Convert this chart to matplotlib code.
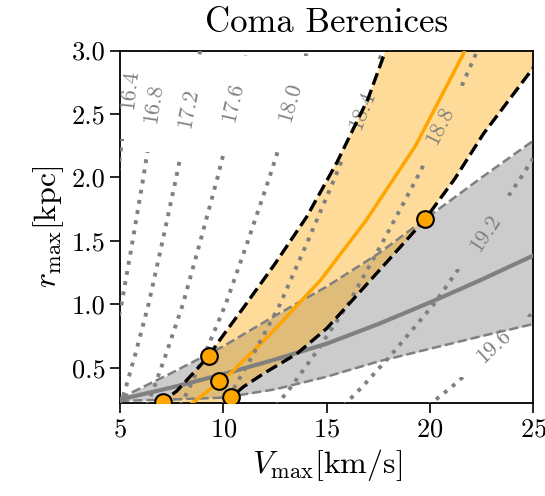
import matplotlib
matplotlib.use('Agg')
import matplotlib.pyplot as plt
from matplotlib.transforms import Bbox, TransformedBbox

plt.rcParams['font.family'] = ['cmr10', 'DejaVu Serif']
plt.rcParams['mathtext.fontset'] = 'cm'
plt.rcParams['axes.formatter.use_mathtext'] = True

# J-factor contours (log10 J), V_max [km/s] at fixed r_max [kpc]
J_labels = ['16.4', '16.8', '17.2', '17.6', '18.0', '18.4', '18.8', '19.2', '19.6']
r_grid = [0.2, 0.35, 0.6, 1.0, 1.5, 2.0, 2.5, 3.0, 3.2]
V_164 = [3.15, 3.33, 3.61, 4.03, 4.45, 4.87, 5.26, 5.60, 5.73]
V_168 = [3.97, 4.20, 4.55, 5.07, 5.61, 6.13, 6.62, 7.05, 7.22]
V_172 = [5.00, 5.29, 5.73, 6.38, 7.06, 7.72, 8.33, 8.88, 9.09]
V_176 = [6.29, 6.66, 7.21, 8.04, 8.89, 9.72, 10.49, 11.17, 11.44]
V_180 = [7.92, 8.38, 9.08, 10.11, 11.19, 12.23, 13.21, 14.06, 14.40]
V_184 = [9.97, 10.55, 11.43, 12.74, 14.09, 15.40, 16.63, 17.71, 18.13]
V_188 = [12.55, 13.28, 14.39, 16.03, 17.74, 19.38, 20.93, 22.29, 22.83]
V_192 = [15.80, 16.72, 18.11, 20.18, 22.33, 24.40, 26.35, 28.07, 28.74]
V_196 = [19.90, 21.05, 22.80, 25.41, 28.12, 30.72, 33.20, 35.30, 36.20]
contour_V = [V_164, V_168, V_172, V_176, V_180, V_184, V_188, V_192, V_196]

# gray band: r_max-V_max relation (median and scatter)
gray_V = [5, 7.5, 10, 12.5, 15, 17.5, 20, 22.5, 25]
gray_mid = [0.25, 0.345, 0.45, 0.565, 0.69, 0.845, 1.015, 1.195, 1.385]
gray_hi = [0.26, 0.46, 0.67, 0.91, 1.14, 1.40, 1.70, 2.00, 2.29]
gray_lo = [0.24, 0.25, 0.265, 0.33, 0.43, 0.55, 0.65, 0.75, 0.845]

# orange band: allowed region for Coma Berenices
orange_up_V = [6.9, 7.1, 7.74, 8.5, 9.31, 9.84, 11.0, 12.5, 14.03, 15.5, 17.0, 17.85, 18.1]
orange_up_r = [0.20, 0.238, 0.316, 0.45, 0.596, 0.722, 0.98, 1.32, 1.689, 2.12, 2.62, 3.0, 3.1]
orange_lo_V = [10.2, 10.36, 10.97, 12.0, 13.55, 15.0, 16.45, 18.0, 19.76, 21.2, 22.58, 25.0, 26.0]
orange_lo_r = [0.20, 0.267, 0.35, 0.46, 0.61, 0.81, 1.07, 1.35, 1.67, 1.99, 2.343, 2.865, 3.1]
orange_mid_V = [8.3, 8.55, 10.3, 12.3, 14.7, 16.9, 19.3, 21.6, 21.8]
orange_mid_r = [0.2, 0.228, 0.45, 0.77, 1.19, 1.66, 2.25, 2.97, 3.05]

# highlighted points
pts_V = [7.1, 9.31, 9.80, 10.36, 19.76]
pts_r = [0.232, 0.593, 0.398, 0.267, 1.67]

ylo, yhi = 0.225, 3.0

fig = plt.figure(figsize=(5.45, 4.96), dpi=100)
ax = fig.add_axes([120 / 545, 1 - 402.7 / 496, 413.4 / 545, 352.2 / 496])

ax.fill_between(gray_V, gray_lo, gray_hi, color='gray', alpha=0.4, lw=0, zorder=1)
ax.fill(orange_up_V + orange_lo_V[::-1], orange_up_r + orange_lo_r[::-1],
        color='orange', alpha=0.4, lw=0, zorder=1.5)

ax.plot(gray_V, gray_mid, color='gray', lw=3, zorder=3)
ax.plot(gray_V, gray_hi, color='gray', lw=1.8, ls='--', zorder=3)
ax.plot(gray_V, gray_lo, color='gray', lw=1.8, ls='--', zorder=3)

ax.plot(orange_mid_V, orange_mid_r, color='orange', lw=2.5, zorder=3)
ax.plot(orange_up_V, orange_up_r, color='black', lw=2.4, ls='--', zorder=5)
ax.plot(orange_lo_V, orange_lo_r, color='black', lw=2.4, ls='--', zorder=5)

# contour lines with a gap where the label sits
label_pos = [(5.45, 2.69, 84), (6.6, 2.58, 81), (8.29, 2.54, 79), (10.47, 2.59, 77),
             (13.22, 2.59, 74), (16.69, 2.53, 68), (20.48, 2.41, 63), (22.66, 1.56, 56),
             (23.06, 0.67, 43)]
gaps = [(2.3, 3.1), (2.2, 2.95), (2.15, 2.93), (2.18, 2.96), (2.2, 2.96), (2.15, 2.9),
        (2.1, 2.72), (1.28, 1.85), (0.43, 0.9)]
for V, lab, (x, y, rot), (g0, g1) in zip(contour_V, J_labels, label_pos, gaps):
    for y0, y1 in [(ylo, g0), (g1, yhi)]:
        if y1 <= y0:
            continue
        ln, = ax.plot(V, r_grid, color='gray', lw=2.8, ls=':', zorder=4)
        ln.set_clip_box(TransformedBbox(Bbox.from_extents(5, y0, 25, y1), ax.transData))
    ax.text(x, y, lab, color='gray', fontsize=16, rotation=rot, rotation_mode='anchor',
            ha='center', va='center', zorder=4)

ax.plot(pts_V, pts_r, 'o', color='orange', mec='black', mew=1.5, ms=12, zorder=6)

ax.set_xlim(5, 25)
ax.set_ylim(ylo, yhi)
ax.set_xticks([5, 10, 15, 20, 25])
ax.set_yticks([0.5, 1.0, 1.5, 2.0, 2.5, 3.0])
ax.set_yticklabels(['0.5', '1.0', '1.5', '2.0', '2.5', '3.0'])
ax.tick_params(direction='out', length=7, width=1.2, labelsize=19)
for s in ax.spines.values():
    s.set_linewidth(1.3)

ax.set_xlabel(r'$V_{\rm max}$[km/s]', fontsize=23, labelpad=4)
ax.set_ylabel(r'$r_{\rm max}$[kpc]', fontsize=23, labelpad=4)
ax.set_title('Coma Berenices', fontsize=25, pad=13)

plt.savefig('out.png', dpi=100)
